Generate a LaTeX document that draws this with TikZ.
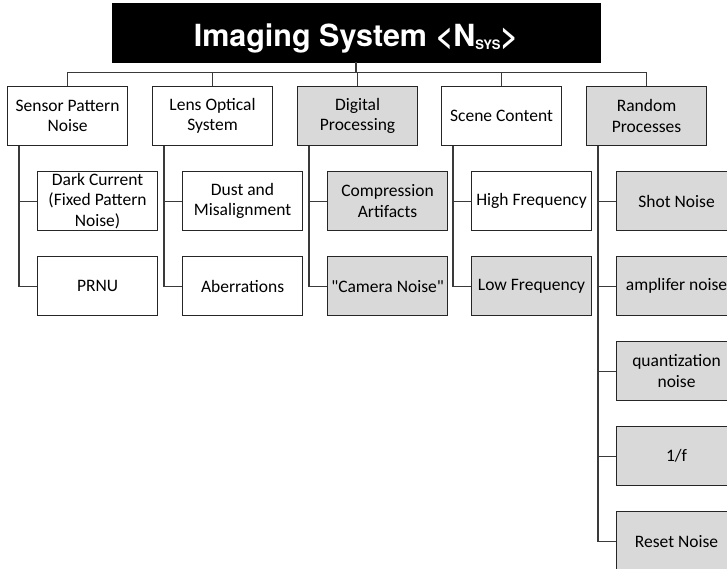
\documentclass[tikz,border=0pt]{standalone}
\usepackage{fontspec}
\setmainfont{Carlito}
\newfontfamily\titlefont{TeX Gyre Heros}
\definecolor{graybox}{HTML}{D9D9D9}
\definecolor{linec}{HTML}{3A3A3A}
\begin{document}
\begin{tikzpicture}[x=1pt,y=-1pt,
  box/.style={draw=black!85, line width=1.1pt, minimum width=120pt, minimum height=59pt,
    inner sep=0pt, align=center, anchor=north west,
    font=\fontsize{17.5}{20.5}\selectfont},
  gbox/.style={box, fill=graybox},
  conn/.style={draw=linec, line width=1.1pt},
  titlebox/.style={fill=black, draw=black, minimum width=488pt, minimum height=59pt,
    inner sep=0pt, text=white, font=\titlefont\bfseries\fontsize{30.5}{32}\selectfont}]
\useasboundingbox (0,0) rectangle (727,568);
\clip (0,0) rectangle (727,568);
\fill[white] (0,0) rectangle (727,568);
% title
\node[titlebox] (T) at (356,32.5) {\raisebox{-14pt}[0pt][0pt]{Imaging System \textless N\raisebox{-2.5pt}{\fontsize{13}{13}\selectfont SYS}\textgreater}};
% level 1
\node[box]  (A) at (7,86)   {Sensor Pattern\\Noise};
\node[box]  (B) at (152,86) {Lens Optical\\System};
\node[gbox] (C) at (297,86) {Digital\\Processing};
\node[box]  (D) at (441,86) {Scene Content};
\node[gbox] (E) at (586,86) {Random\\Processes};
% level 2
\node[box]  (A1) at (37,171)  {Dark Current\\(Fixed Pattern\\Noise)};
\node[box]  (A2) at (37,256)  {PRNU};
\node[box]  (B1) at (182,171) {Dust and\\Misalignment};
\node[box]  (B2) at (182,256) {Aberrations};
\node[gbox] (C1) at (327,171) {Compression\\Artifacts};
\node[gbox] (C2) at (327,256) {\textquotedbl Camera Noise\textquotedbl};
\node[box]  (D1) at (471,171) {High Frequency};
\node[gbox] (D2) at (471,256) {Low Frequency};
\node[gbox] (E1) at (616,171) {Shot Noise};
\node[gbox] (E2) at (616,256) {amplifer noise};
\node[gbox] (E3) at (616,341) {quantization\\noise};
\node[gbox] (E4) at (616,426) {1/f};
\node[gbox] (E5) at (616,511) {Reset Noise};
% connectors
\path (T.south) ++(0,10) coordinate (bus);
\draw[conn] (T.south) -- (bus);
\foreach \n in {A,B,C,D,E} \draw[conn] (bus) -| (\n.north);
\foreach \p/\c in {A/A1,A/A2,B/B1,B/B2,C/C1,C/C2,D/D1,D/D2,E/E1,E/E2,E/E3,E/E4,E/E5}
  \draw[conn] ([xshift=12pt]\p.south west) |- (\c.west);
\end{tikzpicture}
\end{document}
